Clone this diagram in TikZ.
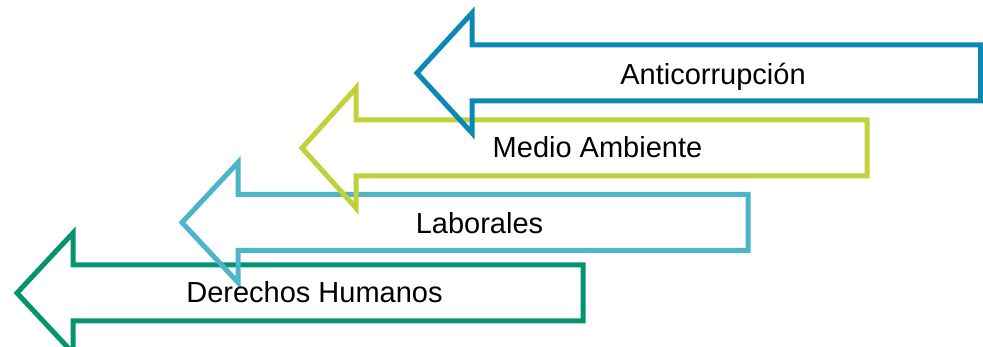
\documentclass[tikz,border=0pt]{standalone}
\usepackage{fontspec}
\setmainfont{Liberation Sans}
\definecolor{cBlue}{RGB}{11,136,180}
\definecolor{cLime}{RGB}{194,209,59}
\definecolor{cCyan}{RGB}{74,182,199}
\definecolor{cTeal}{RGB}{6,147,112}
\tikzset{
  arrowshape/.style={line width=5pt, line join=miter, miter limit=10},
  lbl/.style={anchor=base, inner sep=0pt, font=\fontsize{29}{34}\selectfont, text=black}
}
\newcommand{\leftarrowshape}[6]{% color, tip x, head x, center y, right x
  \draw[arrowshape, draw=#1] (#2,#4) -- (#3,#4-60) -- (#3,#4-28) -- (#5,#4-28) -- (#5,#4+28) -- (#3,#4+28) -- (#3,#4+60) -- cycle;
}
\begin{document}
\begin{tikzpicture}[x=1pt,y=-1pt]
\useasboundingbox (0,0) rectangle (983,347);
\begin{scope}
\clip (0,0) rectangle (983,347);
\leftarrowshape{cTeal}{17}{73}{293}{583}{}
\leftarrowshape{cCyan}{182}{238}{222.5}{748}{}
\leftarrowshape{cLime}{302}{356}{148}{867}{}
\leftarrowshape{cBlue}{417}{472}{73}{980.5}{}
\end{scope}
\node[lbl] (t1) at (713,85) {Anticorrupción};
\node[lbl] (t2) at (597.5,158) {Medio Ambiente};
\node[lbl] (t3) at (479.5,234) {Laborales};
\node[lbl] (t4) at (314.5,303) {Derechos Humanos};
\end{tikzpicture}
\end{document}
